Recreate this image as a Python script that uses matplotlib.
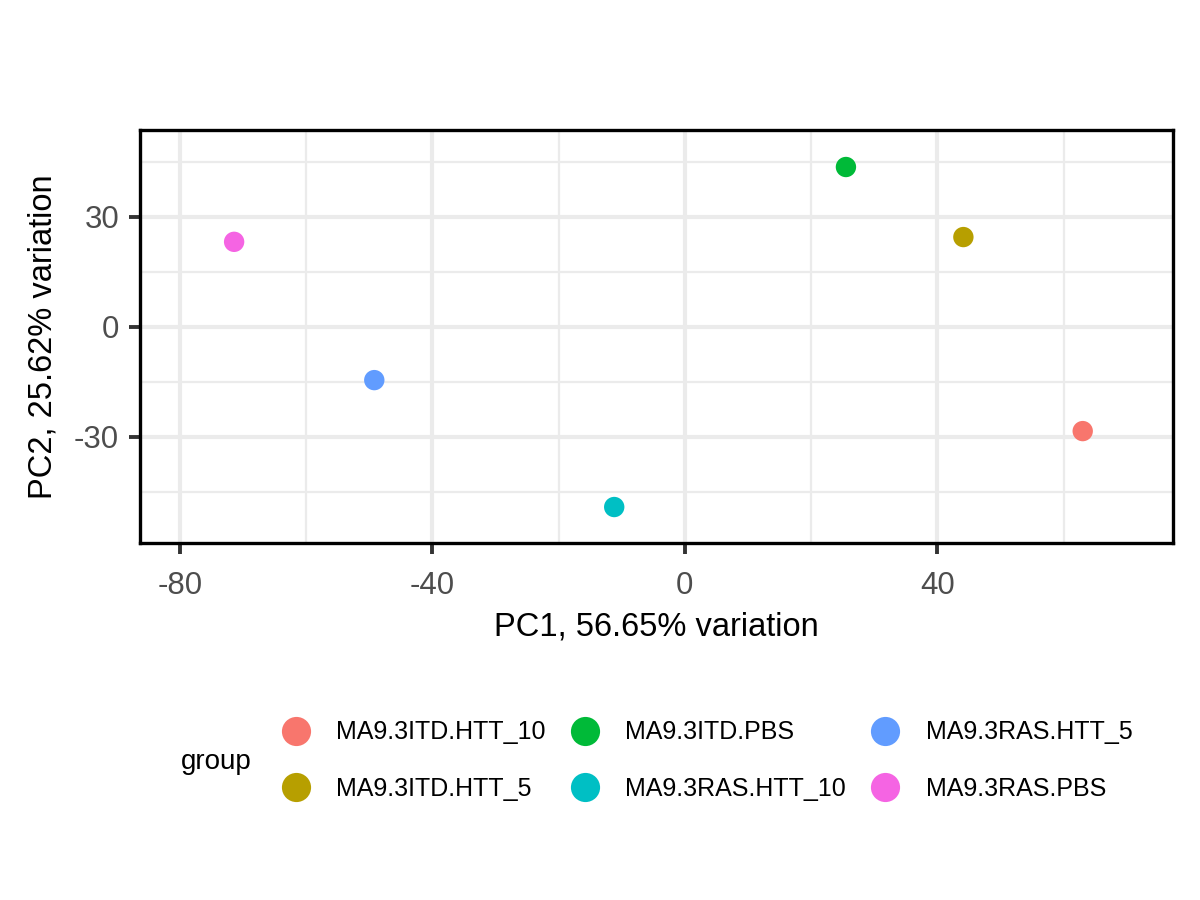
import matplotlib
matplotlib.use('Agg')
import matplotlib.pyplot as plt
from matplotlib.lines import Line2D

plt.rcParams['font.family'] = ['Liberation Sans', 'DejaVu Sans']
plt.rcParams['axes.unicode_minus'] = False

# PCA scores per sample group
groups = ['MA9.3ITD.HTT_10', 'MA9.3ITD.HTT_5', 'MA9.3ITD.PBS',
          'MA9.3RAS.HTT_10', 'MA9.3RAS.HTT_5', 'MA9.3RAS.PBS']
pc1 = [63.0, 44.1, 25.5, -11.2, -49.2, -71.4]
pc2 = [-28.4, 24.5, 43.6, -49.1, -14.5, 23.2]
colors = ['#F8766D', '#B79F00', '#00BA38', '#00BFC4', '#619CFF', '#F564E3']

x_ticks = [-80, -40, 0, 40]
y_ticks = [-30, 0, 30]

fig = plt.figure(figsize=(12, 9), dpi=100)
ax = fig.add_axes([0.1167, 0.3967, 0.8608, 0.4589])

for g, x, y, c in zip(groups, pc1, pc2, colors):
    ax.scatter(x, y, s=215, color=c, edgecolors='none', zorder=3)

ax.set_xlim(-86.3, 77.3)
ax.set_ylim(-58.9, 53.7)
ax.set_xticks(x_ticks)
ax.set_yticks(y_ticks)
ax.set_xticks([-60, -20, 20, 60], minor=True)
ax.set_yticks([-45, -15, 15, 45], minor=True)
ax.grid(which='major', color='#EBEBEB', linewidth=3.0, zorder=0)
ax.grid(which='minor', color='#EBEBEB', linewidth=1.6, zorder=0)
ax.set_axisbelow(True)
for s in ax.spines.values():
    s.set_linewidth(2.4)
    s.set_color('black')
ax.tick_params(which='major', length=8, width=2.8, color='#333333',
               labelsize=22.5, labelcolor='#4D4D4D')
ax.tick_params(axis='x', which='major', pad=12)
ax.tick_params(axis='y', which='major', pad=7)
ax.tick_params(which='minor', length=0)

ax.set_xlabel('PC1, 56.65% variation', fontsize=23.5, labelpad=8)
ax.set_ylabel('PC2, 25.62% variation', fontsize=23.5, labelpad=11)

handles = [Line2D([0], [0], marker='o', linestyle='none', markersize=21,
                  markerfacecolor=c, markeredgecolor='none') for c in colors]
fig.legend(handles, groups, ncol=3, loc='center left',
           bbox_to_anchor=(0.2235, 0.155), frameon=False, fontsize=18,
           handletextpad=1.03, columnspacing=0.95, labelspacing=1.3,
           handlelength=1.2, borderpad=0)
fig.text(0.151, 0.153, 'group', fontsize=20, va='center', ha='left')

fig.savefig('out.png', dpi=100)
